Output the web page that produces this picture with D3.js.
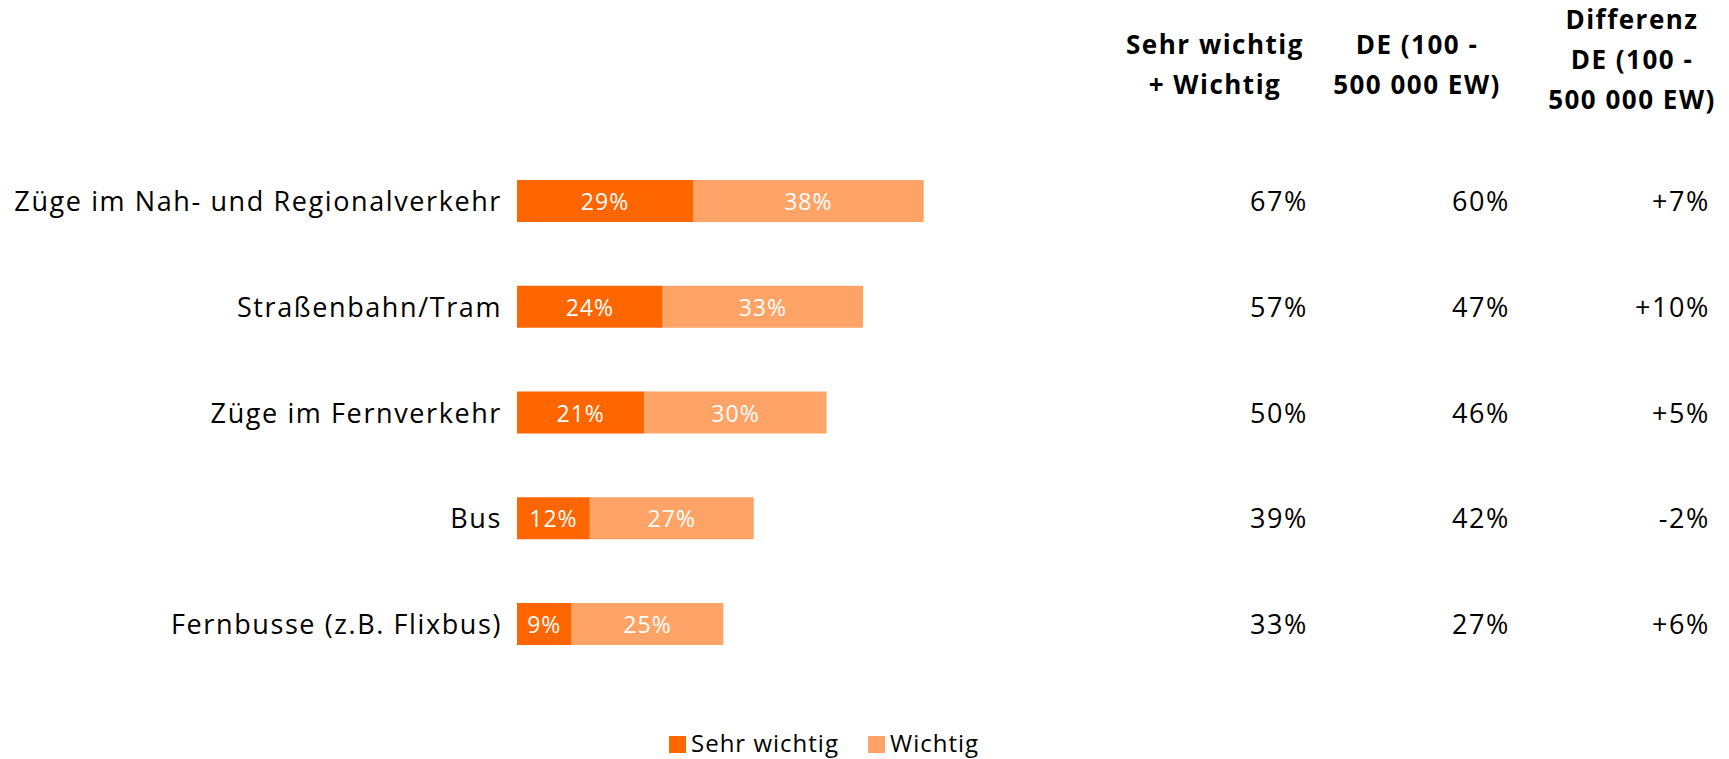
<!DOCTYPE html>
<html><head><meta charset="utf-8">
<script src="https://cdn.jsdelivr.net/npm/d3@7"></script>
<style>body{margin:0;background:#fff}svg{display:block}text{font-family:"Open Sans",sans-serif}</style>
</head><body>
<svg id="c" width="1729" height="759"></svg>
<script>
const categories = ["Züge im Nah- und Regionalverkehr","Straßenbahn/Tram","Züge im Fernverkehr","Bus","Fernbusse (z.B. Flixbus)"];
const sehrWichtig = [29,24,21,12,9];
const wichtig = [38,33,30,27,25];
const summe = ["67%","57%","50%","39%","33%"];
const deVals = ["60%","47%","46%","42%","27%"];
const diffVals = ["+7%","+10%","+5%","-2%","+6%"];
const headers = [["Sehr wichtig","+ Wichtig"],["DE (100 -","500 000 EW)"],["Differenz","DE (100 -","500 000 EW)"]];
const seriesNames = ["Sehr wichtig","Wichtig"];
const colors = ["#FF6600","#FFA366"];

const svg = d3.select("#c");
const x = d3.scaleLinear().domain([0,100]).range([517,1124]);
const y = d3.scalePoint().domain(categories).range([201,624]);
const barH = 42;
const fs = 27;

const stack = categories.map((c,i)=>[{k:0,x0:0,x1:sehrWichtig[i],v:sehrWichtig[i],c},{k:1,x0:sehrWichtig[i],x1:sehrWichtig[i]+wichtig[i],v:wichtig[i],c}]).flat();
svg.selectAll("rect.bar").data(stack).join("rect").attr("class","bar")
  .attr("x",d=>x(d.x0)).attr("width",d=>x(d.x1)-x(d.x0))
  .attr("y",d=>y(d.c)-barH/2).attr("height",barH).attr("fill",d=>colors[d.k]);
svg.selectAll("text.bl").data(stack).join("text").attr("class","bl")
  .attr("x",d=>(x(d.x0)+x(d.x1))/2).attr("y",d=>y(d.c)+9).attr("text-anchor","middle")
  .attr("fill","#fff").attr("font-size",23).attr("letter-spacing",1).text(d=>d.v+"%");
svg.selectAll("text.cat").data(categories).join("text").attr("class","cat")
  .attr("x",502).attr("y",d=>y(d)+10).attr("text-anchor","end").attr("font-size",fs)
  .attr("letter-spacing",1.6).attr("fill","#000").text(d=>d);

const cols = [{vals:summe,xr:1308,xc:1215},{vals:deVals,xr:1510,xc:1417},{vals:diffVals,xr:1710,xc:1632}];
cols.forEach((col,ci)=>{
  svg.selectAll("text.v"+ci).data(col.vals).join("text").attr("class","v"+ci)
    .attr("x",col.xr).attr("y",(d,i)=>y(categories[i])+10).attr("text-anchor","end")
    .attr("font-size",fs).attr("letter-spacing",1.6).attr("fill","#000").text(d=>d);
  const h = headers[ci];
  const startY = h.length===3 ? 29 : 54;
  svg.selectAll("text.h"+ci).data(h).join("text").attr("class","h"+ci)
    .attr("x",col.xc).attr("y",(d,i)=>startY+i*40).attr("text-anchor","middle")
    .attr("font-size",26).attr("letter-spacing",1.5).attr("font-weight","bold").attr("fill","#000").text(d=>d);
});

const lx = [669,868];
const lg = svg.selectAll("g.lg").data(seriesNames).join("g").attr("class","lg");
lg.append("rect").attr("x",(d,i)=>lx[i]).attr("y",736).attr("width",17).attr("height",17).attr("fill",(d,i)=>colors[i]);
lg.append("text").attr("x",(d,i)=>lx[i]+22).attr("y",752).attr("font-size",24).attr("letter-spacing",1).attr("fill","#000").text(d=>d);
</script>
</body></html>
